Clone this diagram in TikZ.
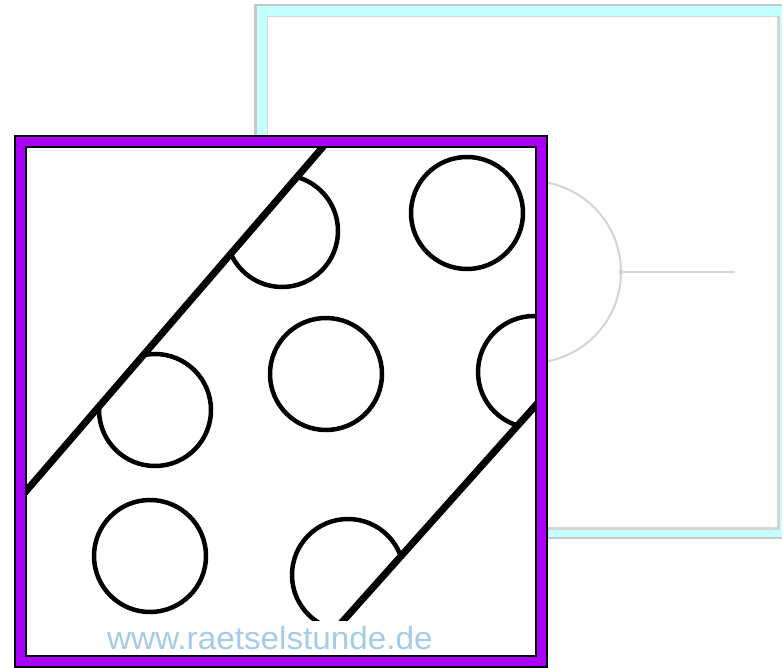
\documentclass[tikz,border=0pt]{standalone}
\usepackage{fontspec}
\usepackage{graphicx}
\newfontfamily\wmfont{Liberation Sans}
\definecolor{bgcyan}{RGB}{196,255,255}
\definecolor{backgray}{RGB}{200,200,200}
\definecolor{innergray}{RGB}{215,212,212}
\definecolor{halfgray}{RGB}{212,212,212}
\definecolor{frontpurple}{RGB}{170,0,255}
\definecolor{wmblue}{RGB}{164,204,230}
\tikzset{
  ring/.style={draw=black, line width=4.5pt},
  diag/.style={draw=black, line width=7pt},
  faint/.style={draw=halfgray, line width=2pt}
}
\begin{document}
\begin{tikzpicture}[x=1pt,y=-1pt]
\useasboundingbox (0,0) rectangle (782,668);
\clip (0,0) rectangle (782,668);
% back square
\fill[backgray] (254,4) rectangle (793,539);
\fill[bgcyan] (257,6) rectangle (790,537);
\fill[innergray] (267,16) rectangle (780,530);
\fill[white] (268,17) rectangle (777,527);
% faint half circle and line
\draw[faint] (530,272) circle[radius=91pt];
\coordinate (hc) at (621,272);
\coordinate (hend) at (735,272);
\draw[faint] (hc) -- (hend);
\fill[halfgray] (hc) circle[radius=2.5pt];
% front square frame
\fill[black] (14,135) rectangle (548,668);
\fill[frontpurple] (16,137) rectangle (546,666);
\fill[black] (25,146) rectangle (537,657);
\fill[white] (27,148) rectangle (535,655);
% interior
\begin{scope}
  \clip (27,148) rectangle (535,655);
  \draw[ring] (467,213) circle[radius=56pt];
  \draw[ring] (326,374) circle[radius=56pt];
  \draw[ring] (150,556) circle[radius=56pt];
  \begin{scope}
    \clip (617,-194) -- (-268,832) -- (1000,1000) -- (1000,-194) -- cycle;
    \draw[ring] (282,231) circle[radius=56pt];
    \draw[ring] (155,410) circle[radius=56pt];
  \end{scope}
  \begin{scope}
    \clip (-142,1164) -- (988,-101) -- (988,-500) -- (-500,-500) -- (-500,1164) -- cycle;
    \draw[ring] (534,372) circle[radius=56pt];
    \draw[ring] (348,575) circle[radius=56pt];
  \end{scope}
  \coordinate (u1) at (-268,832);
  \coordinate (u2) at (617,-194);
  \coordinate (l1) at (-142,1164);
  \coordinate (l2) at (988,-101);
  \draw[diag] (u1) -- (u2);
  \draw[diag] (l1) -- (l2);
\end{scope}
% watermark
\fill[white] (96,621) rectangle (442,655);
\node[anchor=base, inner sep=0pt, text=wmblue] (wm) at (270,649)
  {\scalebox{1.04}[1]{\wmfont\fontsize{32}{32}\selectfont www.raetselstunde.de}};
\end{tikzpicture}
\end{document}
